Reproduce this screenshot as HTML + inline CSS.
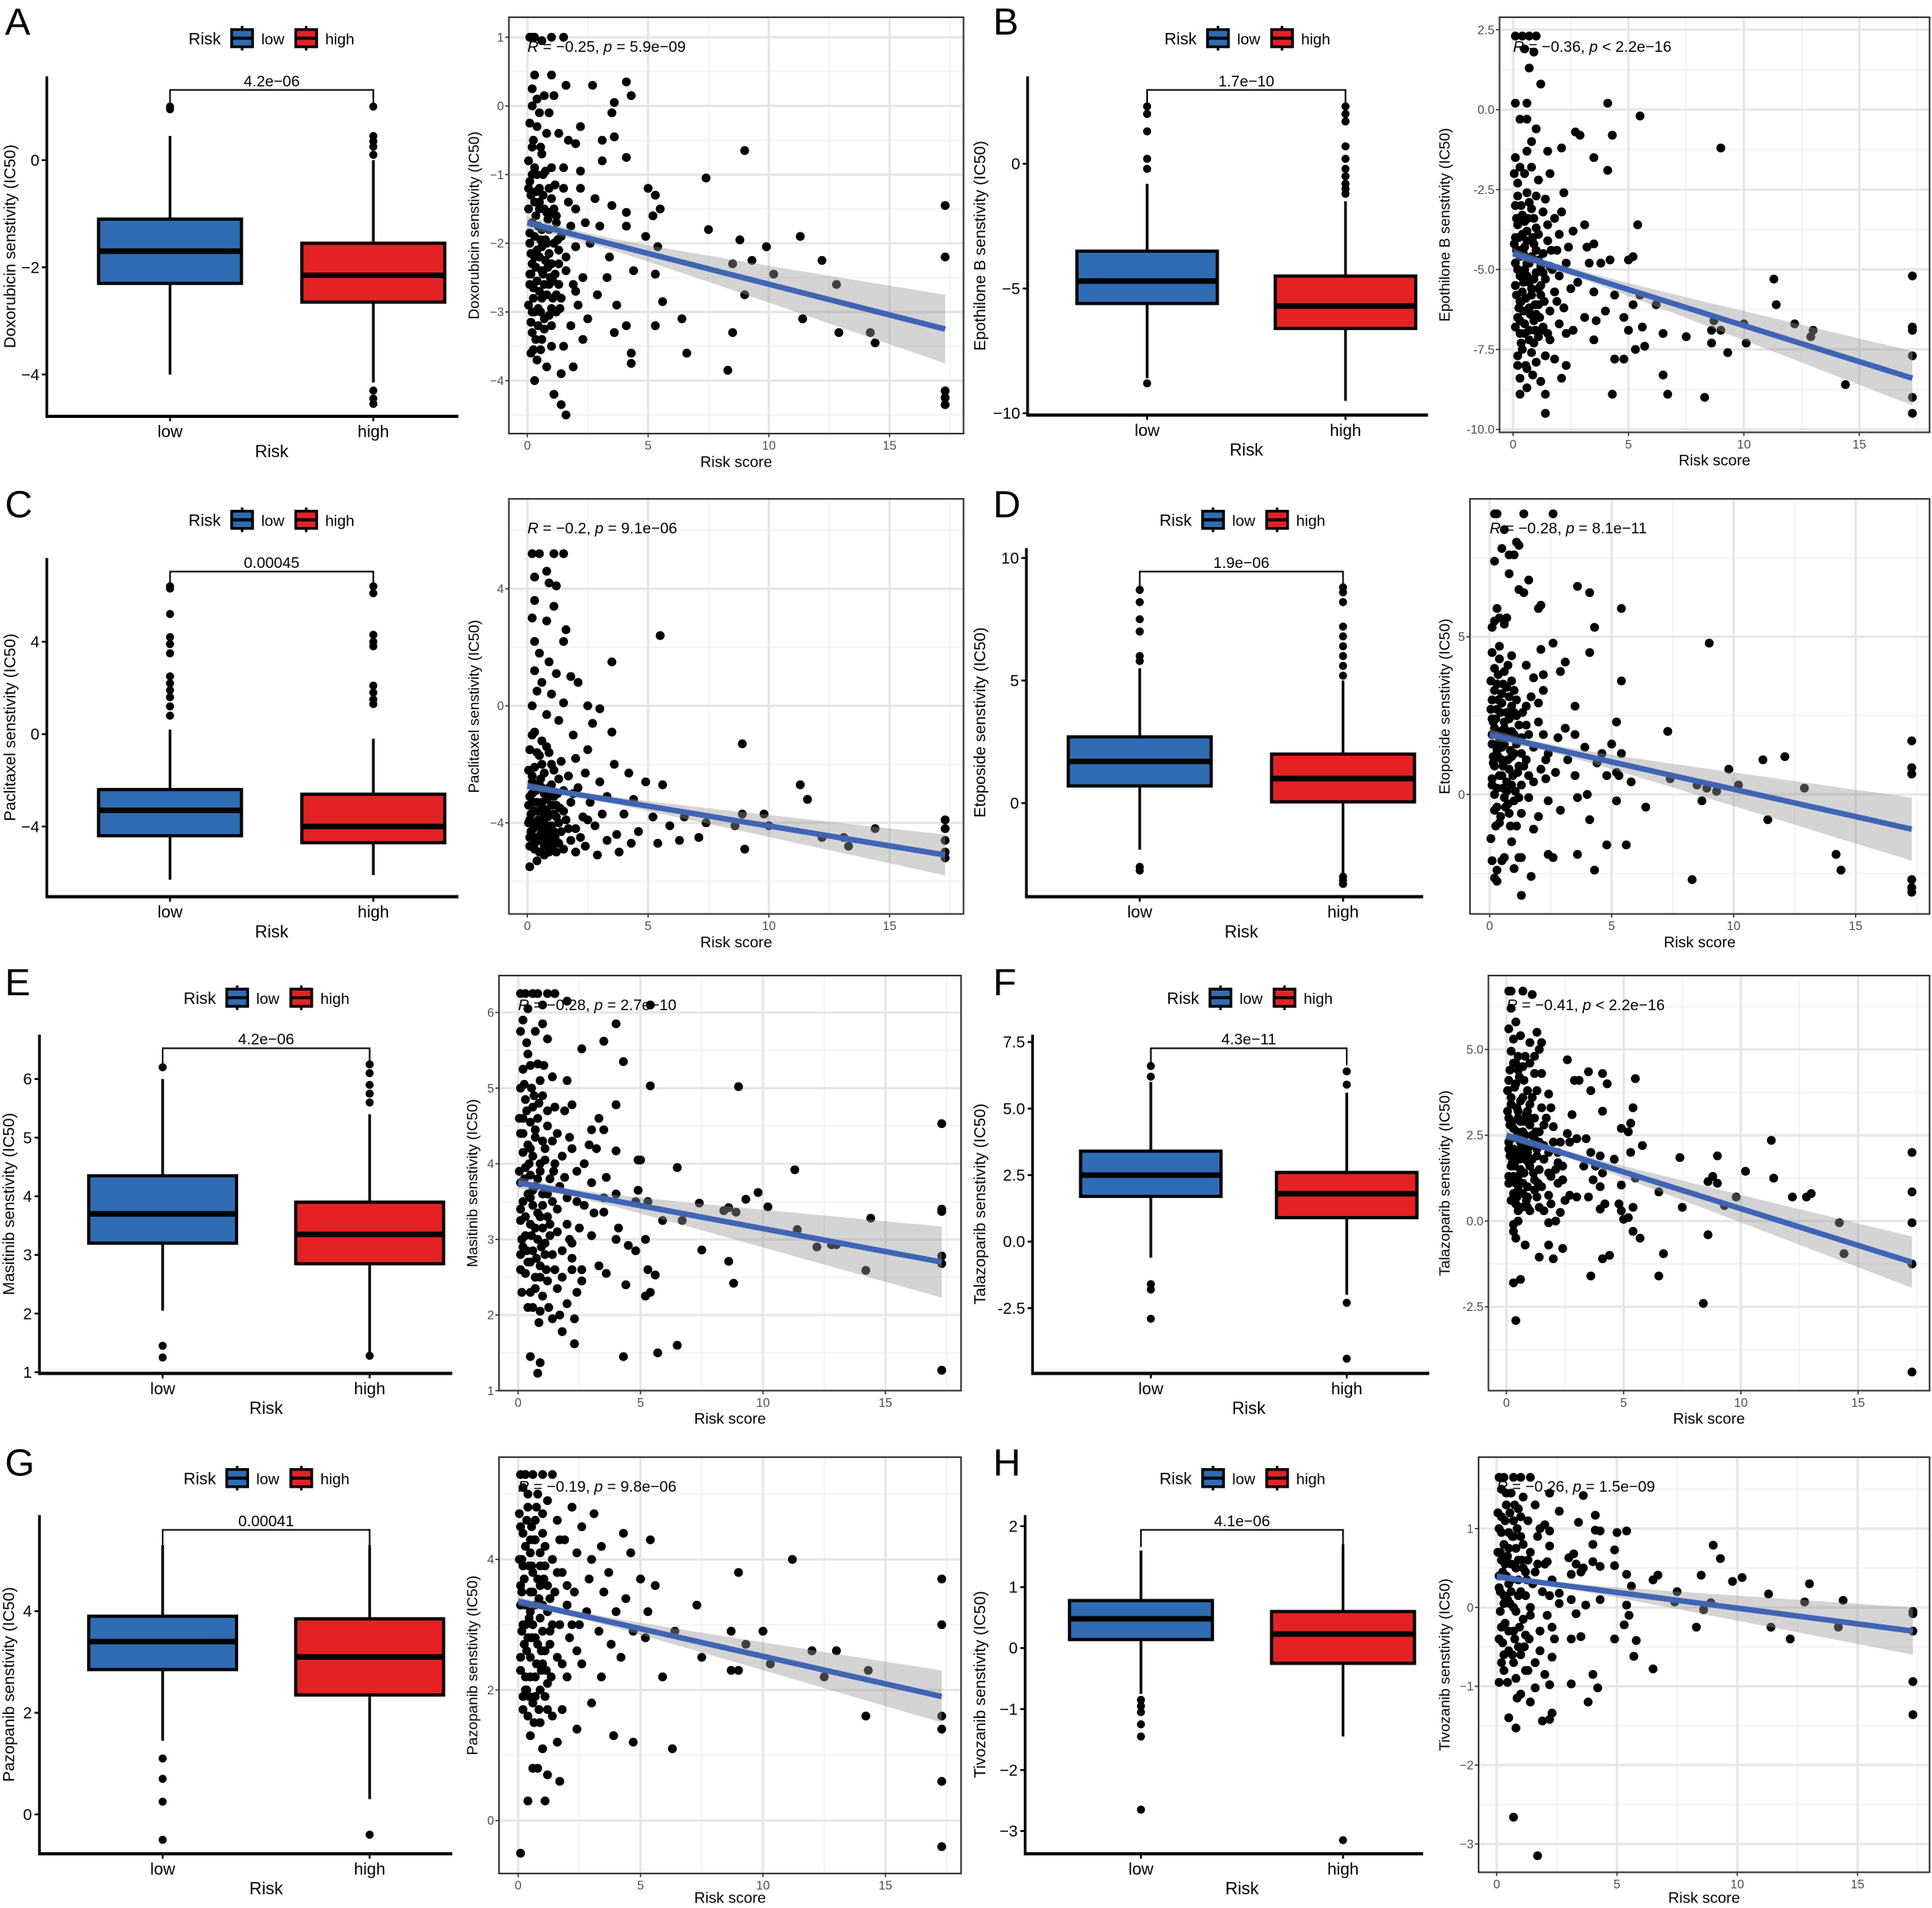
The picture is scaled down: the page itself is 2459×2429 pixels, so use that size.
<!DOCTYPE html>
<html><head><meta charset="utf-8"><title>Drug sensitivity figure</title>
<style>
html,body{margin:0;padding:0;background:#fff;overflow:hidden;width:2459px;height:2429px;}
svg{display:block;font-family:"Liberation Sans",Arial,sans-serif;overflow:hidden;}
</style></head>
<body>
<svg id="fig" xmlns="http://www.w3.org/2000/svg" width="2459" height="2429" viewBox="0 0 1568 1549" preserveAspectRatio="none"></svg>
<script>
// ---------------- DATA ----------------
const groupLabels = ['low','high'];
const riskLegend = ['low','high'];
const xTicksScatter = [0,5,10,15];

// panel A Doxorubicin
const A_boxLow = [-4.0,-2.3,-1.7,-1.1,0.45];
const A_outLow = [1.0,0.95];
const A_boxHigh = [-4.15,-2.65,-2.15,-1.55,0.0];
const A_outHigh = [1.0,0.45,0.35,0.25,0.1,-4.3,-4.45,-4.55];
const A_boxTicks = [0,-2,-4];
const A_scTicks = [1,0,-1,-2,-3,-4];
const A_fit = [-1.7,-3.25];
const A_band = [0.07,0.5];
const A_pts = [[0.1,1],[0.2,1],[0.3,1],[0.6,0.95],[1.0,1],[1.5,1],[0.3,0.45],[1.0,0.45],[0.2,0.25],[1.6,0.3],[2.7,0.3],[4.1,0.35],[4.3,0.15],[0.4,0.1],[0.7,0.15],[1.1,0.15],[0.2,0],[0.5,-0.1],[0.9,-0.1],[3.6,0.05],[3.5,-0.1],[0.1,-0.25],[0.4,-0.3],[0.8,-0.4],[1.3,-0.4],[2.2,-0.3],[1.7,-0.5],[2.0,-0.55],[3.1,-0.5],[3.6,-0.45],[4.1,-0.75],[3.1,-0.8],[9.0,-0.65],[0.2,-0.6],[0.6,-0.7],[0.3,-0.9],[1.0,-0.9],[1.5,-0.9],[2.2,-0.95],[0.1,-1.1],[0.5,-1.2],[0.9,-1.2],[1.5,-1.2],[7.4,-1.05],[0.3,-1.4],[0.7,-1.5],[1.1,-1.5],[2.0,-1.5],[2.8,-1.35],[3.5,-1.45],[5.0,-1.2],[5.3,-1.3],[5.5,-1.5],[4.1,-1.55],[5.2,-1.6],[0.2,-1.7],[0.6,-1.8],[1.2,-1.7],[1.8,-1.75],[2.4,-1.7],[3.0,-1.75],[4.1,-1.75],[7.5,-1.8],[11.3,-1.9],[8.8,-1.95],[17.3,-1.45],[0.1,-2.0],[0.4,-2.1],[0.8,-2.0],[1.3,-2.1],[2.0,-2.05],[2.6,-2.0],[3.4,-2.2],[4.9,-1.9],[5.4,-2.05],[9.9,-2.05],[9.3,-2.25],[12.2,-2.25],[17.3,-2.2],[0.2,-2.3],[0.6,-2.4],[1.0,-2.3],[1.6,-2.4],[2.3,-2.5],[3.3,-2.5],[4.4,-2.4],[5.3,-2.45],[8.5,-2.3],[10.2,-2.45],[12.8,-2.6],[0.1,-2.6],[0.5,-2.7],[0.9,-2.6],[1.4,-2.8],[2.0,-2.7],[2.9,-2.75],[3.7,-2.9],[5.6,-2.85],[9.0,-2.75],[0.3,-3.0],[0.7,-3.1],[1.2,-3.0],[1.8,-3.2],[2.5,-3.1],[4.1,-3.2],[5.3,-3.2],[6.4,-3.1],[11.4,-3.1],[12.9,-3.3],[14.2,-3.3],[0.2,-3.3],[0.6,-3.4],[1.0,-3.5],[1.5,-3.5],[2.3,-3.4],[3.6,-3.3],[8.5,-3.3],[14.4,-3.45],[6.6,-3.6],[0.4,-3.7],[0.8,-3.8],[1.4,-3.9],[0.3,-4.0],[1.1,-4.2],[1.4,-4.35],[1.6,-4.5],[4.3,-3.6],[4.3,-3.75],[8.3,-3.85],[17.3,-4.15],[17.3,-4.25],[17.3,-4.35],[1.9,-3.8],[0.15,-1.3],[0.35,-1.6],[0.55,-1.95],[0.75,-2.25],[0.95,-2.5],[0.25,-2.8],[0.45,-3.2],[0.65,-1.0],[0.85,-1.65],[1.05,-2.8],[1.25,-1.95],[0.05,-1.5],[0.3,-2.2],[0.7,-2.6],[1.15,-2.45],[0.5,-1.5],[0.9,-1.8],[1.3,-2.6],[0.15,-2.45],[0.4,-1.0],[0.05,-2.9],[0.55,-3.0],[1.0,-3.2],[0.25,-3.55]];
const A_ptsCluster = [[0.05,-0.8],[0.2,-1.0],[0.35,-1.25],[0.5,-1.4],[0.65,-1.3],[0.8,-1.55],[1.0,-1.35],[1.2,-1.6],[0.1,-1.85],[0.3,-1.9],[0.45,-1.75],[0.6,-2.05],[0.75,-1.95],[0.9,-2.15],[1.1,-2.0],[1.4,-1.9],[0.15,-2.15],[0.35,-2.35],[0.5,-2.2],[0.65,-2.45],[0.85,-2.35],[1.05,-2.55],[1.3,-2.3],[0.1,-2.45],[0.25,-2.65],[0.4,-2.55],[0.6,-2.8],[0.8,-2.75],[1.0,-2.95],[1.2,-2.75],[0.2,-3.0],[0.45,-2.95],[0.7,-3.25],[0.9,-3.05],[0.35,-3.4],[0.15,-3.6],[0.55,-3.55],[1.6,-2.2],[1.7,-1.4],[1.9,-2.6],[0.05,-1.2],[0.25,-0.5],[0.55,-0.6],[0.75,-0.95],[0.95,-1.55],[1.15,-1.15],[1.35,-2.95],[0.15,-3.15],[2.1,-2.9],[2.2,-1.2]];

// panel B Epothilone B
const B_boxLow = [-8.6,-5.6,-4.7,-3.5,-0.8];
const B_outLow = [2.3,2.0,1.3,0.2,-0.2,-8.8];
const B_boxHigh = [-9.5,-6.6,-5.7,-4.5,-1.5];
const B_outHigh = [2.3,2.0,1.7,0.7,0.2,-0.2,-0.5,-0.8,-1.0,-1.2];
const B_boxTicks = [0,-5,-10];
const B_scTicks = [2.5,0,-2.5,-5,-7.5,-10];
const B_scTickLabels = ['2.5','0.0','-2.5','-5.0','-7.5','-10.0'];
const B_fit = [-4.5,-8.4];
const B_band = [0.12,0.85];
const B_pts = [[0.1,2.3],[0.4,2.3],[0.7,2.3],[1.0,2.3],[0.5,1.9],[0.9,1.8],[0.7,1.3],[1.2,0.8],[0.1,0.2],[0.6,0.2],[4.1,0.2],[5.5,-0.2],[0.3,-0.3],[0.6,-0.3],[1.0,-0.6],[0.8,-1.0],[0.6,-1.3],[1.5,-1.3],[2.1,-1.2],[2.7,-0.7],[2.9,-0.8],[4.3,-0.8],[9.0,-1.2],[0.1,-1.5],[0.3,-1.8],[0.5,-2.0],[0.8,-1.8],[1.1,-2.2],[1.6,-2.0],[0.2,-2.3],[0.6,-2.6],[1.0,-2.7],[1.4,-2.8],[2.2,-2.6],[3.5,-1.5],[4.1,-1.9],[0.1,-3.0],[0.4,-3.3],[0.8,-3.1],[1.3,-3.2],[1.8,-3.4],[0.2,-3.6],[0.6,-3.8],[1.0,-3.7],[1.5,-3.6],[2.0,-3.9],[2.6,-3.8],[3.1,-3.6],[5.4,-3.6],[0.1,-4.0],[0.5,-4.3],[0.9,-4.2],[1.3,-4.5],[1.9,-4.4],[2.4,-4.3],[3.2,-4.3],[3.5,-4.2],[0.3,-4.6],[0.7,-4.8],[1.1,-4.7],[1.6,-4.9],[2.3,-4.8],[3.3,-4.8],[4.2,-4.7],[5.0,-4.7],[5.2,-4.6],[3.8,-4.8],[0.2,-5.0],[0.6,-5.2],[1.0,-5.1],[1.4,-5.3],[2.0,-5.2],[2.8,-5.4],[0.1,-5.5],[0.4,-5.7],[0.8,-5.6],[1.2,-5.8],[1.8,-5.7],[2.5,-5.6],[3.5,-5.7],[4.4,-5.8],[5.5,-5.8],[11.3,-5.3],[17.3,-5.2],[0.3,-6.0],[0.7,-6.2],[1.1,-6.1],[1.6,-6.3],[2.2,-6.2],[3.1,-6.5],[4.0,-6.3],[4.8,-6.5],[5.2,-6.1],[6.2,-6.1],[11.4,-6.1],[0.2,-6.5],[0.5,-6.7],[0.9,-6.6],[1.3,-6.8],[2.0,-6.7],[2.6,-6.9],[3.6,-6.6],[5.0,-6.9],[5.6,-6.8],[8.7,-6.6],[8.6,-6.9],[9.0,-6.9],[10.0,-6.7],[12.2,-6.7],[17.3,-6.8],[17.3,-6.9],[0.3,-7.0],[0.7,-7.2],[1.1,-7.1],[1.6,-7.2],[2.3,-7.0],[0.4,-7.5],[0.8,-7.6],[1.4,-7.7],[1.8,-7.8],[3.5,-7.2],[4.4,-7.8],[4.8,-7.8],[5.3,-7.5],[5.7,-7.4],[6.5,-7.0],[7.5,-7.1],[8.6,-7.3],[9.3,-7.6],[10.1,-7.3],[12.9,-7.1],[13.0,-6.9],[17.3,-7.7],[0.2,-8.0],[0.6,-8.1],[1.0,-7.9],[2.3,-8.0],[0.3,-8.4],[0.6,-8.7],[1.2,-8.5],[1.4,-8.9],[2.1,-8.4],[4.3,-8.9],[6.5,-8.3],[6.7,-8.9],[8.3,-9.0],[14.4,-8.6],[17.3,-9.0],[17.3,-9.5],[1.4,-9.5],[0.3,-8.9],[0.15,-4.4],[0.45,-5.4],[0.85,-4.0],[0.25,-6.2],[0.65,-3.4],[1.2,-5.5],[0.35,-7.3],[0.95,-6.9]];
const B_ptsCluster = [[0.05,-2.0],[0.2,-2.7],[0.35,-3.0],[0.5,-3.5],[0.7,-2.9],[0.9,-3.4],[1.1,-3.9],[0.05,-4.2],[0.25,-4.0],[0.45,-4.5],[0.6,-4.1],[0.8,-4.6],[1.0,-4.4],[1.2,-4.9],[0.1,-4.8],[0.3,-5.2],[0.5,-5.0],[0.7,-5.4],[0.9,-5.3],[1.1,-5.6],[1.3,-5.1],[0.15,-5.8],[0.35,-6.0],[0.55,-5.9],[0.75,-6.4],[0.95,-6.1],[1.15,-6.5],[0.1,-6.8],[0.3,-6.6],[0.5,-7.0],[0.7,-6.9],[0.9,-7.3],[1.2,-6.9],[0.2,-7.7],[0.55,-8.0],[0.85,-8.3],[1.5,-4.1],[1.7,-5.0],[1.9,-6.0],[2.1,-3.2],[0.4,-3.9],[0.6,-4.8],[0.8,-5.8],[1.0,-6.4],[0.15,-3.4],[0.3,-4.4],[0.45,-6.3],[1.35,-6.0],[1.5,-7.0],[1.65,-4.4]];

// panel C Paclitaxel
const C_boxLow = [-6.3,-4.4,-3.3,-2.4,0.2];
const C_outLow = [0.8,1.2,1.6,1.9,2.2,2.5,3.5,3.9,4.2,5.2,6.3,6.4];
const C_boxHigh = [-6.1,-4.7,-4.0,-2.6,-0.2];
const C_outHigh = [1.3,1.5,1.8,2.1,3.8,4.0,4.3,6.1,6.4];
const C_boxTicks = [4,0,-4];
const C_scTicks = [4,0,-4];
const C_fit = [-2.75,-5.1];
const C_band = [0.1,0.7];
const C_pts = [[0.2,5.2],[0.5,5.2],[1.1,5.2],[1.5,5.2],[0.8,4.6],[0.3,4.4],[0.9,4.2],[1.2,4.1],[0.3,3.6],[1.1,3.4],[0.2,3.0],[0.8,2.9],[1.6,2.6],[5.5,2.4],[0.3,2.2],[1.5,2.2],[0.5,1.8],[0.9,1.5],[3.5,1.5],[0.3,1.2],[1.2,1.1],[1.8,1.0],[0.6,0.8],[2.1,0.8],[0.4,0.5],[1.0,0.4],[0.2,0.0],[1.5,0.1],[2.5,0.0],[0.8,-0.3],[1.3,-0.5],[3.0,-0.1],[2.7,-0.6],[0.3,-0.9],[0.6,-1.2],[1.9,-1.0],[3.5,-0.9],[8.9,-1.3],[0.1,-1.5],[0.5,-1.7],[0.9,-1.6],[1.4,-1.9],[2.0,-1.8],[2.5,-1.5],[0.3,-2.1],[0.7,-2.3],[1.1,-2.2],[1.7,-2.4],[2.4,-2.3],[3.6,-2.0],[4.2,-2.3],[11.3,-2.7],[11.6,-3.2],[0.2,-2.6],[0.6,-2.8],[1.0,-2.7],[1.5,-2.9],[2.1,-2.8],[3.0,-2.6],[4.9,-2.6],[5.6,-2.7],[0.1,-3.1],[0.4,-3.3],[0.8,-3.2],[1.2,-3.4],[1.8,-3.3],[2.6,-3.3],[3.3,-3.1],[4.4,-3.2],[8.9,-3.7],[9.8,-3.7],[0.3,-3.6],[0.7,-3.8],[1.1,-3.7],[1.6,-3.9],[2.3,-3.8],[3.1,-3.7],[4.0,-3.7],[5.2,-3.8],[6.5,-3.8],[7.4,-4.0],[10.0,-4.1],[17.3,-3.9],[0.2,-4.0],[0.6,-4.2],[1.0,-4.1],[1.4,-4.3],[2.0,-4.2],[2.8,-4.1],[3.7,-4.4],[4.6,-4.3],[5.9,-4.1],[7.1,-4.5],[8.6,-4.1],[12.2,-4.5],[13.1,-4.5],[14.4,-4.2],[17.3,-4.2],[0.1,-4.5],[0.5,-4.6],[0.9,-4.5],[1.3,-4.7],[1.8,-4.6],[2.4,-4.8],[3.3,-4.6],[4.3,-4.7],[5.4,-4.7],[0.3,-4.9],[0.7,-5.1],[1.2,-5.0],[2.0,-5.0],[2.9,-5.1],[3.8,-5.0],[13.3,-4.8],[17.3,-4.6],[17.3,-5.0],[17.3,-5.2],[0.4,-5.3],[0.1,-5.5],[9.0,-4.9],[6.3,-4.6],[0.45,-3.9],[0.85,-4.4],[0.25,-4.2],[0.65,-3.5],[1.25,-3.0],[0.15,-3.7],[0.55,-2.5],[0.95,-3.0]];
const C_ptsCluster = [[0.05,-2.2],[0.2,-2.4],[0.35,-2.9],[0.5,-2.7],[0.7,-3.0],[0.9,-2.8],[1.1,-3.1],[0.05,-3.4],[0.25,-3.3],[0.45,-3.6],[0.6,-3.3],[0.8,-3.6],[1.0,-3.4],[1.2,-3.8],[0.1,-3.9],[0.3,-4.0],[0.5,-4.1],[0.7,-4.0],[0.9,-4.2],[1.1,-4.3],[1.3,-4.0],[0.15,-4.3],[0.35,-4.5],[0.55,-4.4],[0.75,-4.6],[0.95,-4.7],[1.15,-4.5],[0.1,-4.8],[0.3,-4.7],[0.5,-5.0],[0.7,-4.8],[0.9,-5.0],[1.5,-3.6],[1.7,-4.2],[1.9,-3.0],[2.2,-4.5],[0.4,-1.6],[0.6,-2.0],[0.8,-1.4],[1.0,-2.0],[0.2,-1.0],[1.3,-2.5],[1.5,-4.9],[0.05,-4.0],[0.65,-4.3],[0.85,-3.8],[0.2,-3.0],[1.05,-4.9],[1.35,-3.5],[2.5,-3.9]];

// panel D Etoposide
const D_boxLow = [-1.9,0.7,1.7,2.7,5.5];
const D_outLow = [5.8,6.0,7.0,7.5,8.2,8.7,-2.6,-2.75];
const D_boxHigh = [-2.9,0.05,1.0,2.0,5.0];
const D_outHigh = [5.2,5.6,6.0,6.4,6.8,7.2,8.2,8.6,8.8,-3.0,-3.15,-3.3];
const D_boxTicks = [10,5,0];
const D_scTicks = [5,0];
const D_fit = [1.9,-1.1];
const D_band = [0.12,1.0];
const D_pts = [[0.2,8.9],[0.3,8.9],[1.4,8.9],[2.6,8.9],[0.6,8.4],[1.1,8.0],[1.2,7.9],[0.5,7.8],[0.8,7.6],[1.0,7.6],[0.2,7.4],[0.8,7.0],[1.6,6.8],[1.2,6.5],[1.4,6.4],[3.6,6.6],[4.1,6.4],[2.1,6.0],[2.0,5.9],[5.4,5.9],[0.3,5.9],[0.4,5.6],[0.7,5.6],[0.2,5.5],[0.6,5.4],[4.3,5.3],[0.1,5.3],[2.6,4.8],[9.0,4.8],[0.4,4.7],[0.1,4.5],[0.9,4.4],[2.1,4.6],[4.1,4.5],[3.1,4.2],[1.5,4.1],[0.2,4.0],[0.6,3.9],[2.9,3.9],[2.2,3.8],[1.8,3.7],[0.9,3.6],[5.4,3.6],[0.3,3.5],[1.0,3.3],[2.2,3.3],[0.5,3.2],[0.8,3.1],[0.1,3.0],[1.5,2.8],[2.0,2.9],[3.5,2.8],[0.3,2.7],[0.7,2.6],[1.1,2.5],[0.1,2.4],[0.6,2.3],[5.2,2.3],[1.5,2.2],[0.2,2.1],[3.1,2.1],[7.3,2.0],[0.9,2.0],[2.2,1.9],[3.5,1.9],[0.4,1.8],[1.3,1.8],[2.8,1.8],[5.0,1.6],[17.3,1.7],[0.1,1.6],[0.6,1.6],[1.8,1.5],[3.9,1.5],[4.6,1.3],[0.3,1.4],[1.0,1.3],[2.4,1.3],[5.4,1.3],[11.2,1.1],[12.1,1.2],[0.5,1.1],[1.5,1.1],[3.2,1.1],[4.4,1.0],[0.2,0.9],[0.8,0.8],[1.2,0.9],[2.1,0.8],[2.7,0.7],[5.2,0.7],[9.8,0.8],[17.3,0.85],[17.3,0.65],[0.4,0.6],[1.6,0.6],[3.5,0.6],[4.8,0.6],[5.3,0.6],[7.4,0.5],[8.5,0.3],[10.2,0.3],[12.9,0.2],[0.1,0.3],[0.7,0.4],[1.3,0.3],[2.3,0.5],[4.0,0.0],[5.8,0.4],[8.9,0.2],[9.3,0.1],[0.2,0.0],[0.6,-0.1],[1.0,-0.2],[1.6,-0.1],[2.4,-0.2],[3.6,-0.1],[5.2,-0.2],[8.7,-0.2],[0.3,-0.4],[0.8,-0.6],[1.3,-0.6],[2.0,-0.7],[2.9,-0.5],[4.1,-0.8],[6.4,-0.4],[11.4,-0.8],[0.4,-0.9],[1.1,-1.0],[1.8,-1.1],[3.6,-1.9],[4.8,-1.6],[5.6,-1.6],[0.1,-2.1],[0.6,-2.0],[1.3,-2.0],[0.5,-2.1],[0.9,-1.5],[1.2,-2.0],[2.4,-1.9],[14.2,-1.9],[14.4,-2.4],[0.3,-2.4],[4.3,-2.4],[1.0,-2.35],[0.2,-2.65],[0.3,-2.75],[8.3,-2.7],[1.3,-3.2],[1.7,-2.6],[2.6,-2.0],[17.3,-2.7],[17.3,-2.95],[17.3,-3.1],[0.15,1.2],[0.45,2.0],[0.85,1.4],[0.55,0.2],[0.25,-1.0],[1.05,0.1],[0.35,3.0],[0.75,-0.3]];
const D_ptsCluster = [[0.05,3.6],[0.2,3.3],[0.35,3.8],[0.5,2.9],[0.7,3.4],[0.9,2.8],[1.1,3.0],[0.05,2.7],[0.25,2.4],[0.45,2.6],[0.6,2.1],[0.8,2.4],[1.0,1.9],[1.2,2.2],[0.1,1.9],[0.3,1.6],[0.5,1.5],[0.7,1.9],[0.9,1.2],[1.1,1.6],[1.3,1.3],[0.15,1.0],[0.35,1.2],[0.55,0.9],[0.75,1.1],[0.95,0.6],[1.15,0.7],[0.1,0.5],[0.3,0.2],[0.5,0.6],[0.7,0.1],[0.9,0.3],[1.2,-0.1],[0.2,-0.5],[0.45,-0.7],[0.65,-0.4],[0.85,-1.0],[1.4,0.9],[1.6,1.9],[1.8,0.4],[2.0,2.3],[1.7,3.1],[0.4,4.3],[0.75,4.1],[1.0,2.6],[0.15,2.3],[0.55,3.5],[1.35,2.6],[0.05,-1.4],[2.3,1.1]];

// panel E Masitinib
const E_boxLow = [2.05,3.2,3.7,4.35,6.0];
const E_outLow = [6.2,1.45,1.25];
const E_boxHigh = [1.3,2.85,3.35,3.9,5.4];
const E_outHigh = [5.6,5.75,5.9,6.1,6.25,1.28];
const E_boxTicks = [6,5,4,3,2,1];
const E_scTicks = [6,5,4,3,2,1];
const E_fit = [3.75,2.7];
const E_band = [0.05,0.47];
const E_pts = [[0.1,6.25],[0.3,6.25],[0.6,6.25],[0.8,6.25],[1.2,6.25],[1.5,6.25],[0.4,6.05],[1.0,6.1],[2.0,6.15],[5.4,6.1],[0.2,5.9],[1.0,5.85],[4.0,5.85],[0.1,5.75],[0.7,5.75],[1.2,5.65],[3.5,5.62],[2.6,5.52],[0.4,5.45],[0.2,5.25],[0.5,5.3],[0.8,5.32],[4.3,5.35],[1.4,5.15],[2.0,5.1],[0.1,5.0],[0.9,5.1],[5.4,5.03],[9.0,5.02],[0.3,4.85],[0.6,4.75],[1.0,4.9],[1.5,4.75],[2.2,4.78],[1.9,4.7],[4.0,4.78],[0.2,4.6],[0.5,4.55],[0.8,4.6],[1.2,4.5],[3.3,4.6],[3.5,4.45],[3.0,4.45],[0.1,4.4],[0.7,4.45],[1.6,4.4],[2.1,4.35],[1.0,4.3],[0.4,4.25],[2.9,4.25],[3.2,4.2],[1.4,4.3],[2.2,4.2],[4.0,4.17],[0.2,4.15],[0.6,4.1],[1.1,4.05],[1.5,4.0],[0.3,3.95],[0.9,3.9],[2.7,4.0],[4.9,4.05],[5.0,4.05],[6.5,3.95],[11.3,3.92],[0.5,3.85],[1.3,3.8],[1.9,3.82],[3.6,3.82],[0.1,3.75],[0.7,3.7],[1.7,3.7],[3.0,3.75],[0.4,3.6],[1.0,3.6],[2.0,3.55],[4.0,3.6],[4.9,3.65],[9.8,3.62],[0.2,3.5],[0.6,3.45],[1.4,3.5],[2.4,3.5],[3.5,3.55],[5.3,3.5],[7.4,3.48],[9.3,3.53],[10.2,3.43],[0.8,3.35],[1.2,3.3],[2.7,3.45],[3.5,3.36],[4.8,3.5],[8.4,3.38],[8.6,3.42],[8.9,3.36],[17.3,3.4],[17.3,3.37],[14.4,3.28],[0.1,3.25],[0.5,3.2],[1.0,3.15],[1.6,3.1],[2.5,3.15],[3.1,3.35],[4.1,3.15],[5.9,3.25],[6.7,3.25],[0.3,3.05],[0.8,3.0],[1.3,3.05],[2.1,3.0],[3.0,3.05],[4.0,3.0],[5.2,3.0],[11.4,3.13],[0.2,2.9],[0.6,2.85],[1.1,2.8],[1.8,2.85],[2.2,2.95],[4.5,2.92],[4.8,2.85],[12.2,2.9],[12.8,2.93],[13.0,2.93],[7.5,2.86],[17.3,2.78],[17.3,2.68],[0.4,2.7],[0.9,2.65],[1.5,2.6],[2.2,2.75],[2.6,2.6],[3.3,2.65],[3.6,2.55],[8.6,2.71],[0.1,2.6],[0.7,2.5],[1.2,2.45],[1.8,2.5],[2.6,2.45],[5.3,2.6],[5.6,2.53],[14.2,2.59],[0.5,2.3],[1.0,2.25],[1.6,2.35],[2.4,2.3],[4.4,2.4],[5.2,2.25],[5.4,2.3],[8.8,2.42],[0.6,2.1],[0.9,2.05],[1.4,1.95],[2.0,2.15],[2.3,1.95],[1.7,2.0],[1.8,1.78],[2.3,1.62],[6.5,1.6],[5.7,1.5],[0.5,1.45],[4.3,1.45],[0.9,1.37],[0.8,1.23],[17.3,1.27],[17.3,4.53]];
const E_ptsCluster = [[0.05,4.6],[0.2,4.4],[0.35,4.7],[0.5,4.2],[0.7,4.35],[0.9,4.0],[1.1,4.2],[0.05,3.9],[0.25,3.8],[0.45,4.0],[0.6,3.65],[0.8,3.8],[1.0,3.45],[1.2,3.6],[0.1,3.4],[0.3,3.3],[0.5,3.55],[0.7,3.15],[0.9,3.3],[1.1,2.95],[1.3,3.2],[0.15,3.0],[0.35,2.85],[0.55,3.05],[0.75,2.75],[0.95,2.9],[1.15,2.6],[0.1,2.8],[0.3,2.55],[0.5,2.7],[0.7,2.35],[0.9,2.5],[1.4,2.8],[1.6,3.4],[1.8,4.1],[2.0,3.2],[0.25,5.05],[0.55,5.0],[0.85,4.8],[1.2,4.7],[1.45,3.9],[0.15,2.3],[0.4,2.1],[1.25,2.1],[2.2,2.6],[2.4,3.9],[0.65,4.9],[1.05,5.3],[0.35,5.6],[0.85,1.9]];

// panel F Talazoparib
const F_boxLow = [-0.6,1.7,2.5,3.4,6.0];
const F_outLow = [6.6,6.2,-1.6,-1.8,-2.9];
const F_boxHigh = [-2.0,0.9,1.8,2.6,5.6];
const F_outHigh = [5.9,6.4,-2.3,-4.4];
const F_boxTicks = [7.5,5,2.5,0,-2.5];
const F_boxTickLabels = ['7.5','5.0','2.5','0.0','-2.5'];
const F_scTicks = [5,2.5,0,-2.5];
const F_scTickLabels = ['5.0','2.5','0.0','-2.5'];
const F_fit = [2.5,-1.2];
const F_band = [0.1,0.75];
const F_pts = [[0.1,6.7],[0.2,6.7],[0.7,6.7],[1.1,6.6],[0.2,6.2],[0.4,5.8],[0.1,5.6],[0.6,5.4],[0.3,5.3],[1.3,5.5],[1.0,5.2],[1.5,5.2],[1.4,5.0],[0.2,4.95],[0.5,4.8],[0.8,4.8],[1.2,4.8],[0.3,4.6],[0.7,4.5],[1.0,4.6],[2.6,4.7],[0.5,4.4],[1.2,4.3],[1.5,4.3],[3.5,4.35],[4.1,4.3],[5.5,4.15],[4.3,4.0],[2.9,4.1],[3.1,4.1],[0.1,4.1],[0.4,4.0],[0.9,3.8],[1.3,3.8],[3.6,3.8],[1.8,3.7],[0.2,3.6],[0.6,3.5],[1.0,3.4],[1.5,3.3],[5.4,3.3],[1.9,3.3],[4.1,3.2],[2.8,3.1],[0.1,3.0],[0.5,3.0],[0.8,2.9],[1.2,3.0],[1.6,2.8],[2.0,2.75],[4.9,2.7],[5.2,2.6],[5.3,2.85],[0.3,2.7],[0.7,2.6],[1.1,2.5],[2.6,2.55],[3.0,2.4],[3.4,2.4],[0.2,2.4],[0.6,2.3],[1.4,2.3],[2.3,2.3],[2.7,2.3],[11.3,2.35],[0.1,2.1],[0.5,2.0],[0.9,2.0],[1.3,2.1],[1.8,2.0],[3.6,2.0],[5.3,2.0],[5.8,2.2],[17.3,2.0],[0.3,1.9],[0.8,1.8],[1.6,1.8],[2.2,1.7],[4.0,1.9],[4.6,1.8],[7.4,1.85],[9.0,1.9],[0.2,1.6],[0.6,1.5],[1.0,1.6],[1.4,1.5],[2.1,1.5],[3.3,1.6],[3.8,1.6],[4.1,1.4],[0.1,1.3],[0.5,1.3],[1.2,1.2],[1.9,1.3],[2.4,1.2],[3.7,1.2],[5.5,1.25],[8.6,1.15],[8.8,1.3],[10.2,1.45],[11.4,1.25],[0.4,1.1],[0.9,1.0],[1.5,1.0],[2.2,1.1],[4.0,1.0],[4.9,1.05],[9.0,1.1],[0.3,0.8],[0.7,0.8],[1.3,0.7],[1.8,0.75],[2.7,0.75],[3.0,0.7],[3.5,0.7],[6.5,0.85],[9.8,0.7],[12.2,0.7],[12.8,0.7],[13.0,0.8],[17.3,0.85],[0.4,0.5],[0.9,0.4],[1.4,0.4],[1.9,0.5],[2.5,0.6],[4.2,0.5],[4.8,0.5],[5.4,0.4],[7.5,0.4],[9.3,0.45],[0.5,0.3],[1.0,0.3],[1.6,0.3],[2.3,0.25],[4.0,0.35],[4.9,0.3],[5.0,0.05],[5.2,0.1],[0.3,-0.1],[0.5,-0.0],[1.8,-0.05],[2.1,0.0],[14.2,-0.05],[17.3,-0.05],[0.3,-0.3],[0.4,-0.5],[0.8,-0.7],[1.8,-0.7],[2.4,-0.8],[5.4,-0.3],[5.7,-0.5],[8.6,-0.4],[1.4,-1.05],[2.0,-1.1],[4.1,-1.1],[4.4,-1.0],[6.7,-0.95],[14.4,-0.95],[17.3,-1.25],[0.3,-1.8],[0.6,-1.7],[3.6,-1.6],[6.5,-1.6],[8.4,-2.4],[0.4,-2.9],[17.3,-4.4],[0.15,2.8],[0.45,3.3],[0.65,2.2],[0.25,1.7],[0.85,3.1],[1.05,2.2],[0.55,1.1],[1.25,2.6]];
const F_ptsCluster = [[0.05,3.8],[0.2,3.4],[0.35,3.9],[0.5,3.2],[0.7,3.6],[0.9,3.2],[1.1,3.6],[0.05,3.2],[0.25,2.9],[0.45,2.6],[0.6,2.9],[0.8,2.5],[1.0,2.8],[1.2,2.4],[0.1,2.3],[0.3,2.1],[0.5,2.4],[0.7,2.0],[0.9,2.2],[1.1,1.8],[1.3,1.9],[0.15,1.9],[0.35,1.6],[0.55,1.8],[0.75,1.4],[0.95,1.7],[1.15,1.4],[0.1,1.1],[0.3,1.3],[0.5,0.9],[0.7,1.1],[0.9,0.7],[1.2,0.9],[0.2,0.6],[0.45,0.7],[0.65,0.4],[0.85,0.6],[1.4,2.6],[1.6,2.2],[1.8,1.4],[2.0,2.3],[1.7,3.0],[0.4,4.6],[0.75,4.1],[1.0,3.0],[0.15,4.4],[0.55,4.2],[1.35,1.1],[2.2,2.0],[2.4,1.6]];

// panel G Pazopanib
const G_boxLow = [1.45,2.85,3.4,3.9,5.3];
const G_outLow = [1.1,0.7,0.25,-0.5];
const G_boxHigh = [0.3,2.35,3.1,3.85,5.3];
const G_outHigh = [-0.4];
const G_boxTicks = [4,2,0];
const G_scTicks = [4,2,0];
const G_fit = [3.36,1.9];
const G_band = [0.05,0.4];
const G_pts = [[0.1,5.3],[0.3,5.3],[0.6,5.3],[1.0,5.3],[1.4,5.3],[0.2,5.1],[0.8,5.0],[1.2,4.9],[2.2,4.8],[3.1,4.7],[0.4,4.8],[0.7,4.6],[1.6,4.6],[2.6,4.5],[0.1,4.5],[0.5,4.3],[1.0,4.4],[1.9,4.3],[3.4,4.2],[4.3,4.4],[5.4,4.3],[0.3,4.2],[0.9,4.1],[1.4,4.0],[2.4,4.1],[3.0,4.0],[4.6,4.1],[11.2,4.0],[0.2,3.9],[0.6,3.8],[1.1,3.9],[1.8,3.8],[2.9,3.7],[3.7,3.8],[5.0,3.7],[9.0,3.8],[17.3,3.7],[0.1,3.6],[0.5,3.5],[0.9,3.6],[1.5,3.5],[2.3,3.5],[3.5,3.5],[4.4,3.4],[5.6,3.6],[0.3,3.3],[0.7,3.3],[1.2,3.2],[2.0,3.3],[2.8,3.2],[4.0,3.2],[5.3,3.2],[7.3,3.3],[0.2,3.0],[0.6,3.0],[1.0,2.9],[1.7,3.0],[2.5,3.0],[3.3,2.9],[4.7,2.9],[6.4,2.9],[8.7,2.9],[10.0,2.9],[17.3,3.0],[0.4,2.8],[0.8,2.7],[1.3,2.7],[2.1,2.8],[3.8,2.7],[5.2,2.8],[9.3,2.7],[0.1,2.5],[0.5,2.5],[1.0,2.4],[1.6,2.5],[2.6,2.4],[4.2,2.5],[9.0,2.3],[10.3,2.4],[0.3,2.2],[0.7,2.2],[1.2,2.1],[2.0,2.2],[3.4,2.2],[5.9,2.2],[8.7,2.3],[12.5,2.2],[14.3,2.3],[0.2,1.9],[0.6,1.8],[1.1,1.9],[1.8,1.7],[3.0,1.8],[0.4,1.6],[0.9,1.5],[1.4,1.6],[2.4,1.4],[12.0,2.6],[13.0,2.6],[7.5,2.5],[0.5,1.3],[1.0,1.1],[1.6,1.2],[3.9,1.3],[4.7,1.2],[6.3,1.1],[14.2,1.6],[17.3,1.6],[17.3,1.4],[0.8,0.8],[1.2,0.7],[1.7,0.6],[0.4,0.3],[1.1,0.3],[0.1,-0.5],[17.3,0.6],[17.3,-0.4],[0.6,0.8],[0.15,4.0],[0.45,3.1],[0.85,3.4],[0.25,2.7],[0.65,4.3],[1.05,3.7],[0.35,2.0],[1.3,2.9],[0.55,3.9],[0.95,2.3]];
const G_ptsCluster = [[0.05,4.7],[0.2,4.4],[0.35,4.6],[0.5,4.1],[0.7,4.3],[0.9,3.9],[1.1,4.2],[0.05,4.0],[0.25,3.7],[0.45,3.9],[0.6,3.5],[0.8,3.7],[1.0,3.3],[1.2,3.6],[0.1,3.3],[0.3,3.0],[0.5,3.2],[0.7,2.8],[0.9,3.1],[1.1,2.6],[1.3,3.4],[0.15,2.9],[0.35,2.6],[0.55,2.8],[0.75,2.4],[0.95,2.6],[1.15,2.3],[0.1,2.3],[0.3,2.0],[0.5,2.2],[0.7,1.9],[0.9,2.0],[1.2,1.7],[0.2,1.7],[0.45,1.9],[0.65,1.5],[0.85,1.7],[1.4,3.0],[1.6,3.8],[1.8,2.4],[2.0,3.6],[1.7,4.3],[0.4,5.0],[0.75,4.8],[1.0,4.7],[0.15,3.5],[0.55,4.5],[1.35,2.2],[2.2,3.0],[2.4,2.6]];

// panel H Tivozanib
const H_boxLow = [-0.75,0.14,0.48,0.78,1.6];
const H_outLow = [-0.85,-0.95,-1.05,-1.25,-1.45,-2.65];
const H_boxHigh = [-1.45,-0.25,0.23,0.6,1.7];
const H_outHigh = [-3.15];
const H_boxTicks = [2,1,0,-1,-2,-3];
const H_scTicks = [1,0,-1,-2,-3];
const H_fit = [0.39,-0.3];
const H_band = [0.03,0.3];
const H_pts = [[0.1,1.65],[0.3,1.65],[0.7,1.65],[1.0,1.65],[1.4,1.65],[0.2,1.5],[0.6,1.45],[1.1,1.4],[2.2,1.45],[0.4,1.3],[0.9,1.25],[1.6,1.3],[2.6,1.22],[3.6,1.42],[0.2,1.15],[0.7,1.1],[1.3,1.1],[2.0,1.05],[4.1,1.17],[3.4,1.08],[0.1,1.0],[0.5,0.95],[1.0,0.9],[1.8,1.0],[2.2,0.97],[4.1,0.98],[4.3,0.97],[5.0,0.95],[5.4,0.97],[0.3,0.8],[0.8,0.75],[1.4,0.7],[2.2,0.78],[3.2,0.68],[3.0,0.63],[4.0,0.8],[4.9,0.73],[0.2,0.6],[0.6,0.55],[1.1,0.5],[1.7,0.55],[2.1,0.58],[3.3,0.55],[4.0,0.58],[4.9,0.53],[9.0,0.79],[9.3,0.62],[0.4,0.4],[0.9,0.35],[1.5,0.3],[2.3,0.35],[3.1,0.42],[3.5,0.45],[4.3,0.52],[5.4,0.42],[6.7,0.41],[8.5,0.41],[10.2,0.38],[9.8,0.33],[0.1,0.25],[0.6,0.2],[1.2,0.15],[1.9,0.2],[2.6,0.18],[3.6,0.5],[5.6,0.27],[6.5,0.35],[13.0,0.3],[7.5,0.2],[0.3,0.05],[0.8,-0.05],[1.4,-0.1],[2.1,-0.1],[2.6,0.05],[3.1,0.1],[3.7,0.03],[4.3,0.1],[5.4,0.03],[7.4,0.07],[11.3,0.17],[12.8,0.07],[14.4,0.09],[8.9,0.06],[8.6,-0.03],[0.2,-0.25],[0.7,-0.3],[1.2,-0.35],[1.8,-0.3],[2.3,-0.25],[3.3,-0.08],[5.3,-0.22],[5.5,-0.1],[8.3,-0.25],[11.4,-0.25],[14.2,-0.25],[17.3,-0.05],[17.3,-0.08],[17.3,-0.3],[0.5,-0.55],[1.0,-0.6],[1.6,-0.7],[2.3,-0.63],[3.1,-0.4],[3.5,-0.37],[4.9,-0.4],[5.8,-0.42],[5.7,-0.62],[12.2,-0.4],[6.5,-0.78],[0.3,-0.8],[0.8,-0.9],[1.3,-0.8],[2.0,-0.85],[2.2,-0.98],[3.1,-0.97],[4.0,-0.85],[4.2,-1.02],[0.1,-0.95],[1.0,-1.1],[1.4,-1.2],[1.6,-1.02],[3.8,-1.2],[17.3,-0.94],[0.5,-1.4],[0.8,-1.53],[1.9,-1.44],[2.2,-1.42],[2.3,-1.34],[17.3,-1.36],[0.7,-2.66],[1.7,-3.15],[0.15,0.7],[0.45,0.1],[0.85,1.0],[0.25,-0.45],[0.65,0.9],[1.05,0.6],[0.35,0.55],[1.25,0.35]];
const H_ptsCluster = [[0.05,1.2],[0.2,0.95],[0.35,1.1],[0.5,0.75],[0.7,0.9],[0.9,0.6],[1.1,0.8],[0.05,0.7],[0.25,0.45],[0.45,0.65],[0.6,0.35],[0.8,0.5],[1.0,0.2],[1.2,0.45],[0.1,0.4],[0.3,0.15],[0.5,0.3],[0.7,0.0],[0.9,0.15],[1.1,-0.15],[1.3,0.6],[0.15,-0.05],[0.35,-0.2],[0.55,0.05],[0.75,-0.4],[0.95,-0.25],[1.15,-0.5],[0.1,-0.4],[0.3,-0.6],[0.5,-0.3],[0.7,-0.7],[0.9,-0.5],[1.2,-0.8],[0.2,-0.7],[0.45,-0.95],[0.65,-0.6],[0.85,-1.15],[1.4,0.0],[1.6,0.45],[1.8,-0.55],[2.0,0.55],[1.7,0.9],[0.4,1.45],[0.75,1.3],[1.0,1.15],[0.15,0.2],[0.55,1.2],[1.35,-0.4],[2.2,0.15],[2.4,-0.4]];

// ---------------- LAYOUT ----------------
const LAYOUT = {
 A:{letter:[4,28], leg:[153,31], drug:'Doxorubicin', pv:'4.2e\u221206', stat:['\u22120.25','=','5.9e\u221209'],
    box:{ax:38,top:62,bot:338,xEnd:372,lowX:138,highX:303,hw:58,v0:0,p0:130,v1:-4,p1:304,br:73,tx:8},
    sc:{l:413,t:14,r:782,b:352,x0:428,x15:722,v0:0,p0:86,v1:-4,p1:309,tx:384}},
 B:{letter:[806,28], leg:[945,31], drug:'Epothilone B', pv:'1.7e\u221210', stat:['\u22120.36','<','2.2e\u221216'],
    box:{ax:834,top:62,bot:337,xEnd:1159,lowX:931,highX:1092,hw:57,v0:0,p0:133,v1:-10,p1:335.5,br:73,tx:795},
    sc:{l:1217,t:14,r:1566,b:351,x0:1228,x15:1509,v0:0,p0:89,v1:-10,p1:348.6,tx:1172}},
 C:{letter:[4,420], leg:[153,422], drug:'Paclitaxel', pv:'0.00045', stat:['\u22120.2','=','9.1e\u221206'],
    box:{ax:38,top:453,bot:728,xEnd:372,lowX:138,highX:303,hw:58,v0:0,p0:596,v1:4,p1:521,br:464,tx:8},
    sc:{l:413,t:405,r:782,b:742,x0:428,x15:722,v0:0,p0:573,v1:4,p1:478,tx:384}},
 D:{letter:[806,420], leg:[941,422], drug:'Etoposide', pv:'1.9e\u221206', stat:['\u22120.28','=','8.1e\u221211'],
    box:{ax:833,top:445,bot:728,xEnd:1155,lowX:925,highX:1090,hw:58,v0:0,p0:652,v1:10,p1:453,br:464,tx:795},
    sc:{l:1193,t:405,r:1566,b:742,x0:1209,x15:1506,v0:0,p0:645,v1:5,p1:517,tx:1172}},
 E:{letter:[4,808], leg:[149,810], drug:'Masitinib', pv:'4.2e\u221206', stat:['\u22120.28','=','2.7e\u221210'],
    box:{ax:32,top:840,bot:1115,xEnd:367,lowX:132,highX:300,hw:60,v0:1,p0:1114,v1:6,p1:876,br:851,tx:7},
    sc:{l:405,t:792,r:780,b:1129,x0:420.5,x15:718.6,v0:1,p0:1129,v1:6,p1:822,tx:383}},
 F:{letter:[806,808], leg:[947,810], drug:'Talazoparib', pv:'4.3e\u221211', stat:['\u22120.41','<','2.2e\u221216'],
    box:{ax:838,top:840,bot:1115,xEnd:1160,lowX:934,highX:1093,hw:57,v0:0,p0:1008,v1:7.5,p1:846,br:851,tx:795},
    sc:{l:1208,t:792,r:1566,b:1129,x0:1222.6,x15:1508,v0:0,p0:991.3,v1:5,p1:852,tx:1172}},
 G:{letter:[4,1198], leg:[149,1200], drug:'Pazopanib', pv:'0.00041', stat:['\u22120.19','=','9.8e\u221206'],
    box:{ax:32,top:1230,bot:1505,xEnd:367,lowX:132,highX:300,hw:60,v0:0,p0:1473,v1:4,p1:1308,br:1242,tx:7},
    sc:{l:405,t:1183,r:780,b:1521,x0:420.5,x15:718.6,v0:0,p0:1478,v1:4,p1:1266,tx:383}},
 H:{letter:[806,1198], leg:[941,1200], drug:'Tivozanib', pv:'4.1e\u221206', stat:['\u22120.26','=','1.5e\u221209'],
    box:{ax:832,top:1230,bot:1505,xEnd:1155,lowX:926,highX:1090,hw:58,v0:0,p0:1338,v1:2,p1:1239,br:1242,tx:795},
    sc:{l:1200,t:1183,r:1566,b:1520,x0:1214.7,x15:1507.6,v0:0,p0:1305,v1:1,p1:1241,tx:1172}}
};
const DATA = {
 A:{bl:A_boxLow,ol:A_outLow,bh:A_boxHigh,oh:A_outHigh,bt:A_boxTicks,st:A_scTicks,fit:A_fit,band:A_band,pts:A_pts.concat(A_ptsCluster)},
 B:{bl:B_boxLow,ol:B_outLow,bh:B_boxHigh,oh:B_outHigh,bt:B_boxTicks,st:B_scTicks,stl:B_scTickLabels,fit:B_fit,band:B_band,pts:B_pts.concat(B_ptsCluster)},
 C:{bl:C_boxLow,ol:C_outLow,bh:C_boxHigh,oh:C_outHigh,bt:C_boxTicks,st:C_scTicks,fit:C_fit,band:C_band,pts:C_pts.concat(C_ptsCluster)},
 D:{bl:D_boxLow,ol:D_outLow,bh:D_boxHigh,oh:D_outHigh,bt:D_boxTicks,st:D_scTicks,fit:D_fit,band:D_band,pts:D_pts.concat(D_ptsCluster)},
 E:{bl:E_boxLow,ol:E_outLow,bh:E_boxHigh,oh:E_outHigh,bt:E_boxTicks,st:E_scTicks,fit:E_fit,band:E_band,pts:E_pts.concat(E_ptsCluster)},
 F:{bl:F_boxLow,ol:F_outLow,bh:F_boxHigh,oh:F_outHigh,bt:F_boxTicks,btl:F_boxTickLabels,st:F_scTicks,stl:F_scTickLabels,fit:F_fit,band:F_band,pts:F_pts.concat(F_ptsCluster)},
 G:{bl:G_boxLow,ol:G_outLow,bh:G_boxHigh,oh:G_outHigh,bt:G_boxTicks,st:G_scTicks,fit:G_fit,band:G_band,pts:G_pts.concat(G_ptsCluster)},
 H:{bl:H_boxLow,ol:H_outLow,bh:H_boxHigh,oh:H_outHigh,bt:H_boxTicks,st:H_scTicks,fit:H_fit,band:H_band,pts:H_pts.concat(H_ptsCluster)}
};
const COL = {low:'#2f6cb3', high:'#e42224'};

// ---------------- DRAW ----------------
const NS='http://www.w3.org/2000/svg';
const svg=document.getElementById('fig');
function mk(tag,attrs,parent){const e=document.createElementNS(NS,tag);for(const k in attrs)e.setAttribute(k,attrs[k]);(parent||svg).appendChild(e);return e;}
function lin(v0,p0,v1,p1){return v=>p0+(v-v0)*(p1-p0)/(v1-v0);}
function fmt(v){return String(v).replace('-','\u2212');}

function drawLegend(key,L,g){
  const [x,y]=L.leg;
  let t=mk('text',{x:x,y:y+5,'font-size':13.5,fill:'#000'},g); t.textContent='Risk';
  
  
  const offs=[35,87];
  riskLegend.forEach((lab,i)=>{
    const ix=x+offs[i];
    const ic=mk('g',{},g);
    
    
    mk('line',{x1:ix+8.5,x2:ix+8.5,y1:y-10,y2:y+10,stroke:'#000','stroke-width':2},ic);
    mk('rect',{x:ix,y:y-7,width:17,height:14,fill:COL[lab],stroke:'#000','stroke-width':2.2},ic);
    mk('line',{x1:ix,x2:ix+17,y1:y,y2:y,stroke:'#000','stroke-width':2.5},ic);
    const lt=mk('text',{x:ix+24,y:y+5,'font-size':12.5,fill:'#000'},g); lt.textContent=lab;
    
    
  });
}

function drawBox(key,L,D){
  const b=L.box;
  const g=mk('g',{});
  
  
  const y=lin(b.v0,b.p0,b.v1,b.p1);
  let e=mk('line',{x1:b.ax,x2:b.ax,y1:b.top,y2:b.bot+1,stroke:'#000','stroke-width':2.2},g);
  
  
  e=mk('line',{x1:b.ax-1,x2:b.xEnd,y1:b.bot,y2:b.bot,stroke:'#000','stroke-width':2.6},g);
  
  
  D.bt.forEach((v,i)=>{
    const yy=y(v);
    const tk=mk('line',{x1:b.ax-4,x2:b.ax,y1:yy,y2:yy,stroke:'#000','stroke-width':1.5},g);
    
    
    const tl=mk('text',{x:b.ax-6,y:yy+4.5,'font-size':13,'text-anchor':'end',fill:'#000'},g);
    tl.textContent=D.btl?D.btl[i]:fmt(v);
    
    
  });
  const groups=[[b.lowX,D.bl,D.ol,'low'],[b.highX,D.bh,D.oh,'high']];
  groups.forEach(([cx,s,outs,lab])=>{
    const bg=mk('g',{},g);
    
    
    mk('line',{x1:cx,x2:cx,y1:y(s[0]),y2:y(s[4]),stroke:'#000','stroke-width':2.2},bg);
    const r=mk('rect',{x:cx-b.hw,y:y(s[3]),width:2*b.hw,height:y(s[1])-y(s[3]),fill:COL[lab],stroke:'#000','stroke-width':2.6},bg);
    
    
    const m=mk('line',{x1:cx-b.hw,x2:cx+b.hw,y1:y(s[2]),y2:y(s[2]),stroke:'#000','stroke-width':4.5},bg);
    
    
    outs.forEach(v=>{
      const c=mk('circle',{cx:cx,cy:y(v),r:3.3,fill:'#000'},bg);
      
      
    });
    const tk=mk('line',{x1:cx,x2:cx,y1:b.bot,y2:b.bot+4,stroke:'#000','stroke-width':1.5},g);
    
    
    const xl=mk('text',{x:cx,y:b.bot+17,'font-size':13.5,'text-anchor':'middle',fill:'#000'},g);
    xl.textContent=lab;
    
    
  });
  const mid=(b.lowX+b.highX)/2;
  const xt=mk('text',{x:mid,y:Math.min(b.bot+33,1542),'font-size':14,'text-anchor':'middle',fill:'#000'},g);
  xt.textContent='Risk';
  
  
  const br=mk('path',{d:`M${b.lowX},${b.br+14}V${b.br}H${b.highX}V${b.br+14}`,fill:'none',stroke:'#000','stroke-width':1.3},g);
  
  
  const pv=mk('text',{x:mid,y:b.br-3,'font-size':12.5,'text-anchor':'middle',fill:'#000'},g);
  pv.textContent=L.pv;
  
  
  const yc=(b.top+b.bot)/2;
  const yt=mk('text',{x:b.tx,y:yc,'font-size':13,'text-anchor':'middle',fill:'#000',transform:`rotate(-90 ${b.tx} ${yc}) translate(0 4.5)`},g);
  yt.textContent=L.drug+' senstivity (IC50)';
  
  
  drawLegend(key,L,g);
  const pl=mk('text',{x:L.letter[0],y:L.letter[1],'font-size':31,fill:'#000'},g);
  pl.textContent=key;
  
  
}

function drawScatter(key,L,D){
  const s=L.sc;
  const g=mk('g',{});
  
  
  const x=lin(0,s.x0,15,s.x15), y=lin(s.v0,s.p0,s.v1,s.p1);
  const bg=mk('rect',{x:s.l,y:s.t,width:s.r-s.l,height:s.b-s.t,fill:'#fff'},g);
  
  
  const cid='clip'+key;
  const cp=mk('clipPath',{id:cid},g);
  mk('rect',{x:s.l,y:s.t,width:s.r-s.l,height:s.b-s.t},cp);
  const inner=mk('g',{'clip-path':`url(#${cid})`},g);
  const step=D.st.length>1?Math.abs(D.st[0]-D.st[1]):5;
  const ymin=Math.min(...D.st)-2*step, ymax=Math.max(...D.st)+2*step;
  for(let v=ymin+step/2; v<=ymax; v+=step){
    const py=y(v);
    if(py<s.t||py>s.b) continue;
    const gl=mk('line',{x1:s.l,x2:s.r,y1:py,y2:py,stroke:'#f2f2f2','stroke-width':1},inner);
    
    
  }
  [2.5,7.5,12.5,17.5].forEach(v=>{
    if(x(v)>s.r) return;
    const gl=mk('line',{x1:x(v),x2:x(v),y1:s.t,y2:s.b,stroke:'#f2f2f2','stroke-width':1},inner);
    
    
  });
  D.st.forEach(v=>{
    const gl=mk('line',{x1:s.l,x2:s.r,y1:y(v),y2:y(v),stroke:'#e6e6e6','stroke-width':2},inner);
    
    
  });
  xTicksScatter.forEach(v=>{
    const gl=mk('line',{x1:x(v),x2:x(v),y1:s.t,y2:s.b,stroke:'#e6e6e6','stroke-width':2},inner);
    
    
  });
  D.pts.forEach(p=>{
    const c=mk('circle',{cx:x(p[0]),cy:y(p[1]),r:3.6,fill:'#000'},inner);
    
    
  });
  const xmax=Math.max(...D.pts.map(p=>p[0]));
  const fy=v=>D.fit[0]+(D.fit[1]-D.fit[0])*v/xmax;
  const xm=2, hmin=D.band[0], hmax=D.band[1];
  const hw=v=>Math.sqrt(hmin*hmin+(hmax*hmax-hmin*hmin)*Math.pow((v-xm)/(xmax-xm),2));
  let up=[],dn=[];
  for(let i=0;i<=40;i++){const v=xmax*i/40;up.push(`${x(v)},${y(fy(v)+hw(v))}`);dn.unshift(`${x(v)},${y(fy(v)-hw(v))}`);}
  const band=mk('polygon',{points:up.concat(dn).join(' '),fill:'rgba(153,153,153,0.42)'},inner);
  
  
  const rl=mk('line',{x1:x(0),y1:y(fy(0)),x2:x(xmax),y2:y(fy(xmax)),stroke:'#3f64b4','stroke-width':4.5},inner);
  
  
  const fr=mk('rect',{x:s.l,y:s.t,width:s.r-s.l,height:s.b-s.t,fill:'none',stroke:'#333','stroke-width':1.3},g);
  
  
  D.st.forEach((v,i)=>{
    const tk=mk('line',{x1:s.l-3,x2:s.l,y1:y(v),y2:y(v),stroke:'#333','stroke-width':1},g);
    
    
    const tl=mk('text',{x:s.l-4,y:y(v)+3.5,'font-size':10,'text-anchor':'end',fill:'#4d4d4d'},g);
    tl.textContent=D.stl?D.stl[i]:fmt(v);
    
    
  });
  xTicksScatter.forEach(v=>{
    const tk=mk('line',{x1:x(v),x2:x(v),y1:s.b,y2:s.b+3,stroke:'#333','stroke-width':1},g);
    
    
    const tl=mk('text',{x:x(v),y:s.b+13,'font-size':10,'text-anchor':'middle',fill:'#4d4d4d'},g);
    tl.textContent=String(v);
    
    
  });
  const xt=mk('text',{x:(s.l+s.r)/2,y:Math.min(s.b+27,1545),'font-size':12.5,'text-anchor':'middle',fill:'#000'},g);
  xt.textContent='Risk score';
  
  
  const yc=(s.t+s.b)/2;
  const yt=mk('text',{x:s.tx,y:yc,'font-size':12,'text-anchor':'middle',fill:'#000',transform:`rotate(-90 ${s.tx} ${yc}) translate(0 4.5)`},g);
  yt.textContent=L.drug+' senstivity (IC50)';
  
  
  const rt=mk('text',{x:x(0),y:s.t+28,'font-size':12.5,fill:'#000'},g);
  
  
  const parts=[['R',true],[' = '+L.stat[0]+', ',false],['p',true],[' '+L.stat[1]+' '+L.stat[2],false]];
  parts.forEach(([tx,it])=>{const ts=mk('tspan',it?{'font-style':'italic'}:{},rt);ts.textContent=tx;});
}

Object.keys(LAYOUT).forEach(k=>{drawBox(k,LAYOUT[k],DATA[k]);drawScatter(k,LAYOUT[k],DATA[k]);});
</script>
</body></html>
